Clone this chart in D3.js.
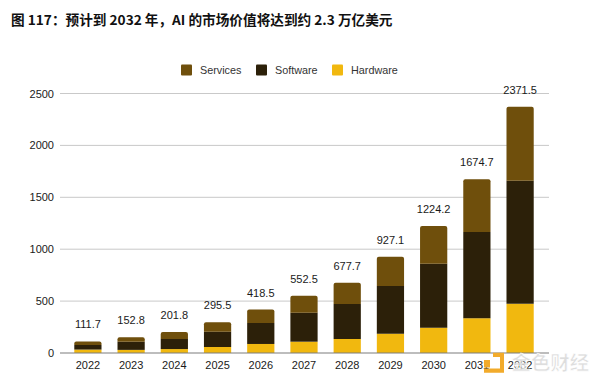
<!DOCTYPE html>
<html>
<head>
<meta charset="utf-8">
<script src="https://cdn.jsdelivr.net/npm/d3@7"></script>
<style>
  html, body { margin: 0; padding: 0; background: #fff; }
  text { font-family: "Liberation Sans", Arial, sans-serif; }
</style>
</head>
<body>
<svg id="chart" width="600" height="384"></svg>
<script>
const years = ['2022', '2023', '2024', '2025', '2026', '2027', '2028', '2029', '2030', '2031', '2032'];
const hardware = [33, 30, 38, 58, 87, 109, 135, 186, 244, 335, 475];
const software = [44, 78, 97, 147, 202, 279, 337, 459, 616, 830, 1185];
const services = [34.7, 44.8, 66.8, 90.5, 129.5, 164.5, 205.7, 282.1, 364.2, 509.7, 711.5];
const totals = [111.7, 152.8, 201.8, 295.5, 418.5, 552.5, 677.7, 927.1, 1224.2, 1674.7, 2371.5];
const yTicks = [0, 500, 1000, 1500, 2000, 2500];
const legendNames = ['Services', 'Software', 'Hardware'];
const legendColors = ['#6f4f0c', '#2c2009', '#f1b80f'];

const svg = d3.select('#chart');

const x = d3.scaleBand().domain(years).range([66.5, 541.5]).paddingInner(0.37).paddingOuter(0.18);
const y = d3.scaleLinear().domain([0, 2500]).range([353, 93.5]);

// title
svg.append('text')
  .attr('x', 11)
  .attr('y', 24.5)
  .attr('font-size', 13.65)
  .attr('font-weight', 700)
  .attr('fill', '#111')
  .style('font-family', '"Noto Sans CJK SC", sans-serif')
  .text('图 117：预计到 2032 年，AI 的市场价值将达到约 2.3 万亿美元');

// grid
svg.append('g')
  .selectAll('line')
  .data(yTicks.slice(1))
  .join('line')
  .attr('x1', 60)
  .attr('x2', 549)
  .attr('y1', (d) => y(d))
  .attr('y2', (d) => y(d))
  .attr('stroke', '#c9c9c9')
  .attr('stroke-width', 1);

// y axis labels
const yAxis = d3.axisLeft(y).tickValues(yTicks).tickSize(0).tickPadding(0).tickFormat(d3.format('d'));
const yAxisGrp = svg.append('g').attr('transform', 'translate(54,0)').call(yAxis);
yAxisGrp.select('.domain').remove();
yAxisGrp.selectAll('text')
  .attr('font-size', 11)
  .attr('fill', '#1a1a1a')
  .style('font-family', '"Liberation Sans", Arial, sans-serif');

// stacks
const rows = years.map((year, i) => ({
  year,
  Hardware: hardware[i],
  Software: software[i],
  Services: services[i],
}));
const stack = d3.stack().keys(['Hardware', 'Software', 'Services']);
const colorOf = d3.scaleOrdinal().domain(legendNames).range(legendColors);

svg.append('g')
  .selectAll('g')
  .data(stack(rows))
  .join('g')
  .attr('fill', (s) => colorOf(s.key))
  .selectAll('path')
  .data((s) => s.map((d) => ({ ...d, key: s.key })))
  .join('path')
  .attr('d', (d) => {
    const l = x(d.data.year);
    const r = l + x.bandwidth();
    const top = y(d[1]);
    const bot = y(d[0]);
    if (d.key !== 'Services') return `M${l},${bot}V${top}H${r}V${bot}Z`;
    // only the top segment has rounded corners
    const c = 2;
    return `M${l},${bot}V${top + c}Q${l},${top} ${l + c},${top}H${r - c}Q${r},${top} ${r},${top + c}V${bot}Z`;
  });

// baseline
svg.append('line')
  .attr('x1', 60)
  .attr('x2', 549)
  .attr('y1', y(0))
  .attr('y2', y(0))
  .attr('stroke', '#7d7d7d')
  .attr('stroke-width', 1.2);

// x axis labels
const xAxis = d3.axisBottom(x).tickSize(0).tickPadding(0);
const xAxisGrp = svg.append('g').attr('transform', 'translate(0,361)').call(xAxis);
xAxisGrp.select('.domain').remove();
xAxisGrp.selectAll('text')
  .attr('font-size', 11)
  .attr('fill', '#1a1a1a')
  .style('font-family', '"Liberation Sans", Arial, sans-serif');

// totals above the bars
svg.append('g')
  .selectAll('text')
  .data(totals)
  .join('text')
  .attr('x', (d, i) => x(years[i]) + x.bandwidth() / 2)
  .attr('y', (d) => y(d) - 13)
  .attr('text-anchor', 'middle')
  .attr('font-size', 11)
  .attr('fill', '#1a1a1a')
  .text((d) => d3.format('.1f')(d));

// legend
const legendX = [181, 256, 332];
const legend = svg.append('g')
  .selectAll('g')
  .data(legendNames)
  .join('g')
  .attr('transform', (d, i) => `translate(${legendX[i]},64.5)`);
legend.append('rect')
  .attr('width', 11)
  .attr('height', 11)
  .attr('rx', 1)
  .attr('fill', (d) => colorOf(d));
legend.append('text')
  .attr('x', 19)
  .attr('y', 9.5)
  .attr('font-size', 10.8)
  .attr('fill', '#333')
  .text((d) => d);

// watermark
const mark = svg.append('g');
mark.append('path')
  .attr('d', 'M493,352.7H504V372.7H484V368.5H500V357H493Z')
  .attr('fill', '#f2ab2b');
mark.append('rect')
  .attr('x', 484)
  .attr('y', 360)
  .attr('width', 6)
  .attr('height', 7.5)
  .attr('fill', '#f2ab2b');
mark.append('text')
  .attr('x', 511.5)
  .attr('y', 370)
  .attr('font-size', 19.4)
  .attr('font-weight', 700)
  .attr('fill', '#d2d2d2')
  .attr('fill-opacity', 0.75)
  .attr('stroke', '#fff')
  .attr('stroke-width', 0.6)
  .style('font-family', '"Noto Sans CJK SC", sans-serif')
  .text('金色财经');
</script>
</body>
</html>
